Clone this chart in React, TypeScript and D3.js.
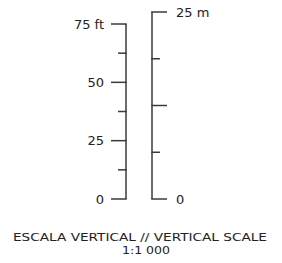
import React from "react";
import * as d3 from "d3";

const ftTicks = [0, 12.5, 25, 37.5, 50, 62.5, 75];
const ftLabels: Record<number, string> = { 0: "0", 25: "25", 50: "50", 75: "75 ft" };
const mTicks = [0, 6.25, 12.5, 18.75, 25];
const mLabels: Record<number, string> = { 0: "0", 25: "25 m" };
const majorM = [0, 12.5, 25];
const titleLines = ["ESCALA VERTICAL // VERTICAL SCALE", "1:1 000"];

export default function App() {
  const W = 282, H = 263;
  const ftY = d3.scaleLinear().domain([0, 75]).range([199, 24]);
  const mY = d3.scaleLinear().domain([0, 25]).range([199, 12]);
  const xL = 126, xR = 152;
  const major = 15, minor = 8;
  const stroke = "#3a3a3a";
  const font = "'DejaVu Sans', sans-serif";
  return (
    <svg width={W} height={H} style={{ position: "absolute", left: 0, top: 0 }}>
      <line x1={xL} x2={xL} y1={ftY(0)} y2={ftY(75)} stroke={stroke} strokeWidth={1.5} />
      {ftTicks.map((t) => {
        const isMajor = t % 25 === 0;
        const y = ftY(t);
        return (
          <g key={"f" + t}>
            <line x1={xL - (isMajor ? major : minor)} x2={xL + 0.75} y1={y} y2={y} stroke={stroke} strokeWidth={1.5} />
            {isMajor && (
              <text x={xL - major - 7} y={y} dy="0.36em" textAnchor="end" fontFamily={font} fontSize={13} fill="#222">
                {ftLabels[t]}
              </text>
            )}
          </g>
        );
      })}
      <line x1={xR} x2={xR} y1={mY(0)} y2={mY(25)} stroke={stroke} strokeWidth={1.5} />
      {mTicks.map((t) => {
        const isMajor = majorM.includes(t);
        const y = mY(t);
        return (
          <g key={"m" + t}>
            <line x1={xR - 0.75} x2={xR + (isMajor ? major : minor)} y1={y} y2={y} stroke={stroke} strokeWidth={1.5} />
            {mLabels[t] && (
              <text x={xR + major + 9} y={y} dy="0.36em" textAnchor="start" fontFamily={font} fontSize={13} fill="#222">
                {mLabels[t]}
              </text>
            )}
          </g>
        );
      })}
      <text x={140} y={240.5} textAnchor="middle" fontFamily={font} fontSize={11} fill="#222" textLength={254} lengthAdjust="spacingAndGlyphs">
        {titleLines[0]}
      </text>
      <text x={146} y={253.5} textAnchor="middle" fontFamily={font} fontSize={11} fill="#222" textLength={48} lengthAdjust="spacingAndGlyphs">
        {titleLines[1]}
      </text>
    </svg>
  );
}
